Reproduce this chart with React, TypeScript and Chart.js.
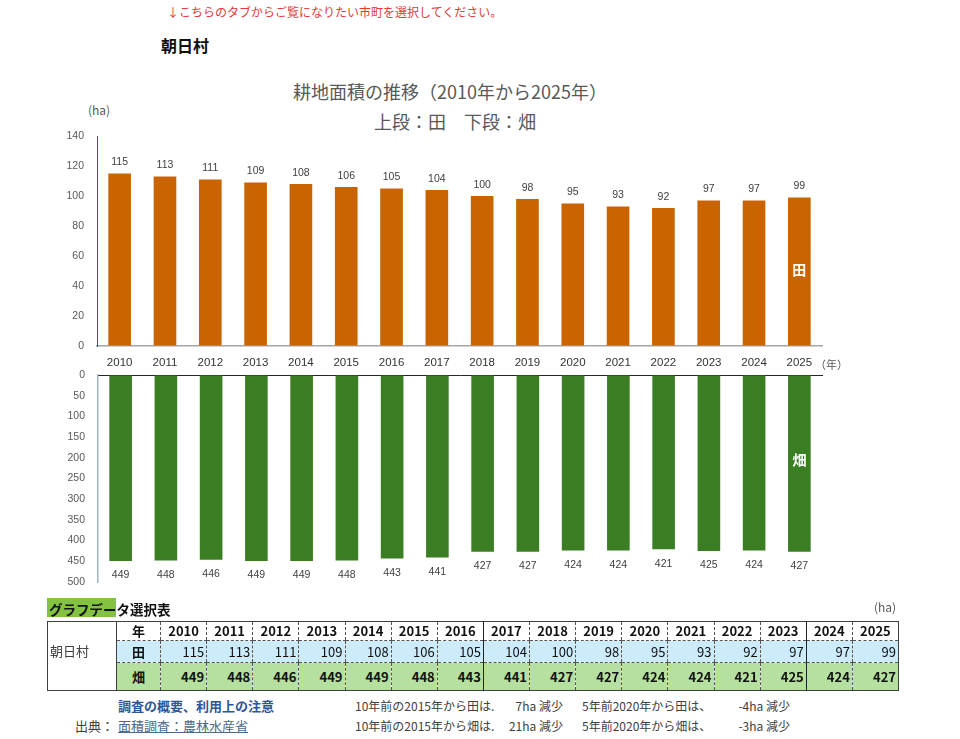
import React, { useEffect, useRef } from "react";
import { Chart, registerables } from "chart.js";

Chart.register(...registerables);

// 耕地面積（ha）
const years = ["2010", "2011", "2012", "2013", "2014", "2015", "2016", "2017", "2018", "2019", "2020", "2021", "2022", "2023", "2024", "2025"];
const paddy = [115, 113, 111, 109, 108, 106, 105, 104, 100, 98, 95, 93, 92, 97, 97, 99];
const upland = [449, 448, 446, 449, 449, 448, 443, 441, 427, 427, 424, 424, 421, 425, 424, 427];

// axis ranges
const paddyAxisMax = 140;
const paddyAxisStep = 20;
const uplandAxisMax = 500;
const uplandAxisStep = 50;

const municipality = "朝日村";
const solidBefore = ["2017", "2024"];

const NUM_FONT = "'Liberation Sans', Arial, sans-serif";
const JP_FONT = "'Noto Sans CJK JP', 'Noto Sans', sans-serif";

const valueLabels = (offset: number) => ({
  id: "valueLabels",
  afterDatasetsDraw(chart: any) {
    const ctx = chart.ctx;
    const meta = chart.getDatasetMeta(0);
    const data = chart.data.datasets[0].data as number[];
    ctx.save();
    ctx.font = `10.5px ${NUM_FONT}`;
    ctx.fillStyle = "#404040";
    ctx.textAlign = "center";
    ctx.textBaseline = "middle";
    meta.data.forEach((bar: any, i: number) => {
      ctx.fillText(String(data[i]), bar.x, bar.y + offset);
    });
    ctx.restore();
  },
});

const seriesTag = (text: string, atValue: number) => ({
  id: "seriesTag",
  afterDatasetsDraw(chart: any) {
    const ctx = chart.ctx;
    const meta = chart.getDatasetMeta(0);
    const last = meta.data[meta.data.length - 1];
    const y = chart.scales.y.getPixelForValue(atValue);
    ctx.save();
    ctx.font = `bold 14px ${JP_FONT}`;
    ctx.fillStyle = "#ffffff";
    ctx.textAlign = "center";
    ctx.textBaseline = "middle";
    ctx.fillText(text, last.x, y);
    ctx.restore();
  },
});

// fixed-width value axis whose tick labels don't push the plot area inwards
const fixedValueAxis = (width: number) => (s: any) => {
  s.width = width;
  s.paddingTop = 0;
  s.paddingBottom = 0;
};

function PaddyChart() {
  const ref = useRef<HTMLCanvasElement>(null);
  useEffect(() => {
    const chart = new Chart(ref.current!, {
      type: "bar",
      data: {
        labels: years,
        datasets: [
          {
            data: paddy,
            backgroundColor: "#C96400",
            barPercentage: 0.5,
            categoryPercentage: 1,
          },
        ],
      },
      options: {
        responsive: false,
        animation: false,
        events: [],
        layout: { padding: { left: 0, right: 138, top: 16, bottom: 0 } },
        plugins: { legend: { display: false }, tooltip: { enabled: false } },
        scales: {
          x: {
            grid: { display: true, drawOnChartArea: false, drawTicks: false },
            border: { display: true, color: "#a6a6a6", width: 1.5 },
            ticks: {
              color: "#333333",
              font: { family: NUM_FONT, size: 11.5 },
              padding: 10,
              maxRotation: 0,
              autoSkip: false,
            },
            afterFit: (s: any) => {
              s.height = 26;
            },
          },
          y: {
            min: 0,
            max: paddyAxisMax,
            grid: { display: true, drawOnChartArea: false, drawTicks: false },
            border: { display: true, color: "#2f5b7c", width: 1 },
            ticks: {
              stepSize: paddyAxisStep,
              color: "#595959",
              font: { family: NUM_FONT, size: 10.5 },
              padding: 13,
            },
            afterFit: fixedValueAxis(97),
          },
        },
      },
      plugins: [valueLabels(-11), seriesTag("田", 51)],
    });
    return () => chart.destroy();
  }, []);
  return <canvas ref={ref} width={960} height={252} style={{ position: "absolute", left: 0, top: 120 }} />;
}

function UplandChart() {
  const ref = useRef<HTMLCanvasElement>(null);
  useEffect(() => {
    const chart = new Chart(ref.current!, {
      type: "bar",
      data: {
        labels: years,
        datasets: [
          {
            data: upland,
            backgroundColor: "#3B7D23",
            barPercentage: 0.5,
            categoryPercentage: 1,
          },
        ],
      },
      options: {
        responsive: false,
        animation: false,
        events: [],
        layout: { padding: { left: 0, right: 138, top: 15, bottom: 18 } },
        plugins: { legend: { display: false }, tooltip: { enabled: false } },
        scales: {
          x: {
            position: "top",
            grid: { display: true, drawOnChartArea: false, drawTicks: false },
            border: { display: true, color: "#262626", width: 1 },
            ticks: { display: false },
            afterFit: (s: any) => {
              s.height = 0;
            },
          },
          y: {
            reverse: true,
            min: 0,
            max: uplandAxisMax,
            grid: { display: true, drawOnChartArea: false, drawTicks: false },
            border: { display: true, color: "#9fb6c9", width: 1.5 },
            ticks: {
              stepSize: uplandAxisStep,
              color: "#595959",
              font: { family: NUM_FONT, size: 10.5 },
              padding: 13,
            },
            afterFit: fixedValueAxis(98),
          },
        },
      },
      plugins: [valueLabels(14.5), seriesTag("畑", 205)],
    });
    return () => chart.destroy();
  }, []);
  return <canvas ref={ref} width={960} height={240} style={{ position: "absolute", left: 0, top: 360 }} />;
}

type TextProps = {
  x: number;
  y: number;
  size: number;
  center?: boolean;
  style?: React.CSSProperties;
  children: React.ReactNode;
};

function Text({ x, y, size, center, style, children }: TextProps) {
  return (
    <div
      style={{
        position: "absolute",
        left: x,
        top: y - size * 0.6,
        fontSize: size,
        lineHeight: `${size * 1.2}px`,
        whiteSpace: "nowrap",
        transform: center ? "translateX(-50%)" : undefined,
        ...style,
      }}
    >
      {children}
    </div>
  );
}

const dashed = "1px dashed #555";
const solid = "1px solid #222";

function DataTable() {
  const cell: React.CSSProperties = { padding: "0 2px", whiteSpace: "nowrap", overflow: "hidden" };
  const leftBorder = (i: number) => (solidBefore.includes(years[i]) ? solid : dashed);
  return (
    <table
      style={{
        position: "absolute",
        left: 47,
        top: 621,
        width: 851,
        borderCollapse: "collapse",
        tableLayout: "fixed",
        border: "1px solid #404040",
        fontFamily: JP_FONT,
        fontSize: 13,
        color: "#111",
      }}
    >
      <colgroup>
        <col style={{ width: 69 }} />
        <col style={{ width: 44 }} />
        {years.map((y) => (
          <col key={y} style={{ width: 46.125 }} />
        ))}
      </colgroup>
      <tbody>
        <tr style={{ height: 19 }}>
          <td
            rowSpan={3}
            style={{ ...cell, verticalAlign: "top", paddingTop: 20, lineHeight: "17px", color: "#404040", border: "1px solid #404040" }}
          >
            {municipality}
          </td>
          <td style={{ ...cell, textAlign: "center", fontWeight: "bold", borderBottom: dashed, lineHeight: "18px" }}>年</td>
          {years.map((y, i) => (
            <td
              key={y}
              style={{ ...cell, textAlign: "center", fontWeight: "bold", borderLeft: leftBorder(i), borderBottom: dashed, lineHeight: "18px" }}
            >
              {y}
            </td>
          ))}
        </tr>
        <tr style={{ height: 22, background: "#ccebfb" }}>
          <td style={{ ...cell, textAlign: "center", fontWeight: "bold", borderBottom: dashed, lineHeight: "21px" }}>田</td>
          {paddy.map((v, i) => (
            <td key={i} style={{ ...cell, textAlign: "right", borderLeft: leftBorder(i), borderBottom: dashed, lineHeight: "21px" }}>
              {v}
            </td>
          ))}
        </tr>
        <tr style={{ height: 28, background: "#b5e09f" }}>
          <td style={{ ...cell, textAlign: "center", fontWeight: "bold", lineHeight: "27px" }}>畑</td>
          {upland.map((v, i) => (
            <td key={i} style={{ ...cell, textAlign: "right", fontWeight: "bold", borderLeft: leftBorder(i), lineHeight: "27px" }}>
              {v}
            </td>
          ))}
        </tr>
      </tbody>
    </table>
  );
}

export default function App() {
  const last = years.length - 1;
  const i2015 = years.indexOf("2015");
  const i2020 = years.indexOf("2020");
  const paddyDrop10 = paddy[i2015] - paddy[last];
  const uplandDrop10 = upland[i2015] - upland[last];
  const paddyDrop5 = paddy[i2020] - paddy[last];
  const uplandDrop5 = upland[i2020] - upland[last];
  const note: React.CSSProperties = { color: "#404040", fontFamily: JP_FONT };
  const amount = (x: number, y: number, v: number) => (
    <Text x={x} y={y} size={12} style={{ ...note, width: 90, textAlign: "right" }}>
      {`${v}ha 減少`}
    </Text>
  );

  return (
    <div style={{ position: "absolute", left: 0, top: 0, width: 960, height: 739, background: "#fff", fontFamily: JP_FONT, overflow: "hidden" }}>
      <Text x={167} y={12} size={12} style={{ color: "#e23b3b" }}>
        ↓こちらのタブからご覧になりたい市町を選択してください。
      </Text>
      <Text x={161} y={46} size={16} style={{ color: "#111", fontWeight: "bold" }}>
        {municipality}
      </Text>

      <Text x={450} y={92} size={18} center style={{ color: "#595959" }}>
        耕地面積の推移（2010年から2025年）
      </Text>
      <Text x={455} y={122} size={18} center style={{ color: "#595959" }}>
        上段：田　下段：畑
      </Text>
      <Text x={88} y={110} size={12} style={{ color: "#595959" }}>
        (ha)
      </Text>

      <PaddyChart />
      <UplandChart />

      <Text x={815} y={365} size={11} style={{ color: "#595959" }}>
        （年）
      </Text>

      <div style={{ position: "absolute", left: 47, top: 598, width: 69, height: 19, background: "#84c341" }} />
      <Text x={49} y={609} size={13.5} style={{ color: "#111", fontWeight: "bold" }}>
        グラフデータ選択表
      </Text>
      <Text x={874} y={607} size={12} style={{ color: "#595959" }}>
        (ha)
      </Text>

      <DataTable />

      <Text x={118} y={706} size={13} style={{ color: "#2f5597", fontWeight: "bold" }}>
        調査の概要、利用上の注意
      </Text>
      <Text x={75} y={726} size={13} style={{ color: "#404040" }}>
        出典：
      </Text>
      <Text x={118} y={726} size={13} style={{ color: "#4b6a8a", textDecoration: "underline" }}>
        面積調査：農林水産省
      </Text>

      <Text x={355} y={706} size={12} style={note}>
        10年前の2015年から田は.
      </Text>
      {amount(473, 706, paddyDrop10)}
      <Text x={582} y={706} size={12} style={note}>
        5年前2020年から田は、
      </Text>
      {amount(700, 706, paddyDrop5)}

      <Text x={355} y={726} size={12} style={note}>
        10年前の2015年から畑は.
      </Text>
      {amount(473, 726, uplandDrop10)}
      <Text x={582} y={726} size={12} style={note}>
        5年前2020年から畑は、
      </Text>
      {amount(700, 726, uplandDrop5)}
    </div>
  );
}
